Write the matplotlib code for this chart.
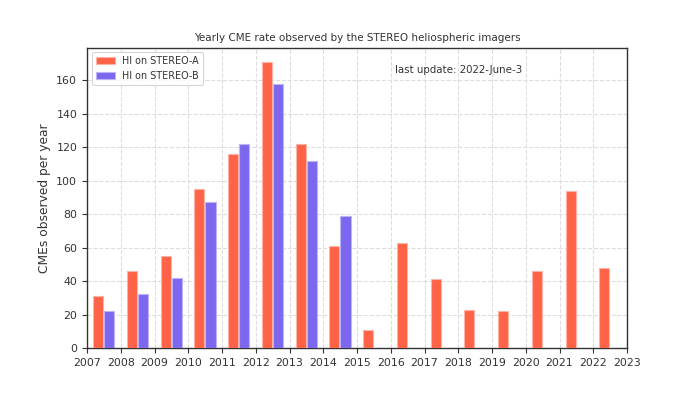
import matplotlib
matplotlib.use("Agg")
import matplotlib.pyplot as plt
import numpy as np

years_a = [2007, 2008, 2009, 2010, 2011, 2012, 2013, 2014, 2015, 2016, 2017, 2018, 2019, 2020, 2021, 2022]
rate_a = [31, 46, 55, 95, 116, 171, 122, 61, 11, 63, 41, 23, 22, 46, 94, 48]
years_b = [2007, 2008, 2009, 2010, 2011, 2012, 2013, 2014]
rate_b = [22, 32, 42, 87, 122, 158, 112, 79]
xticks = list(range(2007, 2024))
yticks = list(range(0, 161, 20))

txt = '#333333'
plt.rcParams['font.family'] = ['DejaVu Sans']
plt.rcParams['text.color'] = txt
plt.rcParams['axes.labelcolor'] = txt
plt.rcParams['xtick.color'] = txt
plt.rcParams['ytick.color'] = txt

fig = plt.figure(figsize=(6.96, 3.98), dpi=100)
ax = fig.add_axes([87/696, 1-348/398, 540/696, 300.5/398])

w = 0.3
ax.bar(np.array(years_a) + 0.33, rate_a, width=w, color='#FF6347', edgecolor='#ffb3a6',
       linewidth=0.8, label='HI on STEREO-A', zorder=3)
ax.bar(np.array(years_b) + 0.66, rate_b, width=w, color='#7B68EE', edgecolor='#bdb3f7',
       linewidth=0.8, label='HI on STEREO-B', zorder=3)

ax.set_xlim(2007, 2023)
ax.set_ylim(0, 179.6)
ax.set_xticks(xticks)
ax.set_yticks(yticks)
ax.tick_params(labelsize=7.9, length=3.5, width=0.8)
ax.grid(True, linestyle='--', color='#dddddd', linewidth=0.8, zorder=0)
ax.set_axisbelow(True)
for s in ax.spines.values():
    s.set_color('#333333')
    s.set_linewidth(1.0)

ax.set_ylabel('CMEs observed per year', fontsize=8.8)
ax.set_title('Yearly CME rate observed by the STEREO heliospheric imagers', fontsize=7.5, pad=5)
ax.text(0.57, 0.925, 'last update: 2022-June-3', transform=ax.transAxes, fontsize=7.4,
        ha='left', va='center')
leg = ax.legend(loc='upper left', fontsize=6.9, frameon=True, fancybox=True,
                edgecolor='#cccccc', borderaxespad=0.5)
leg.get_frame().set_linewidth(0.8)

fig.savefig('out.png', dpi=100)
